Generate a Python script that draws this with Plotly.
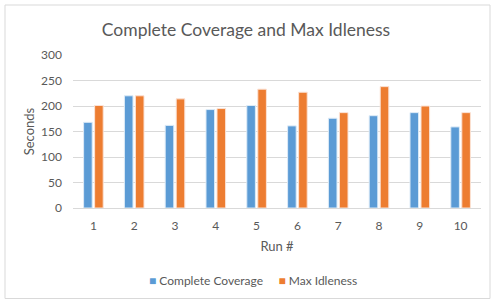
import plotly.graph_objects as go

runs = ["1", "2", "3", "4", "5", "6", "7", "8", "9", "10"]
complete_coverage = [168, 220, 162, 193, 201, 161, 176, 181, 187, 159]
max_idleness = [201, 220, 214, 195, 233, 227, 187, 238, 200, 187]
series_names = ["Complete Coverage", "Max Idleness"]
series_colors = ["#5B9BD5", "#ED7D31"]

FONT = "Lato"
TXT = "#595959"

fig = go.Figure()
fig.add_trace(go.Bar(x=runs, y=complete_coverage, name=series_names[0],
                     marker=dict(color=series_colors[0], line=dict(color="#DDEBF7", width=1))))
fig.add_trace(go.Bar(x=runs, y=max_idleness, name=series_names[1],
                     marker=dict(color=series_colors[1], line=dict(color="#FBE2D5", width=1))))

L, R, T, B = 73, 11, 55, 93
W, H = 492, 301
pw = W - L - R
ph = H - T - B

def py(pix):
    return (T + ph - pix) / ph

def px(pix):
    return (pix - L) / pw

legend_text = (f"<span style='color:{series_colors[0]}'>■</span> {series_names[0]}"
               f"&nbsp;&nbsp;&nbsp;&nbsp;&nbsp;"
               f"<span style='color:{series_colors[1]}'>■</span> {series_names[1]}")

fig.update_layout(
    width=W, height=H,
    margin=dict(l=L, r=R, t=T, b=B, autoexpand=False),
    paper_bgcolor="white", plot_bgcolor="white",
    font=dict(family=FONT, color=TXT, size=12),
    title=dict(text="Complete Coverage and Max Idleness", x=0.5, xanchor="center",
               y=1 - 30 / H, yanchor="middle", font=dict(size=17.5, color=TXT, family=FONT)),
    barmode="group", bargap=0.46, bargroupgap=0.22,
    showlegend=False,
    xaxis=dict(title=dict(text="Run #", font=dict(size=13, color=TXT), standoff=9),
               automargin=False, ticklabelstandoff=7,
               showgrid=False, showline=True, linecolor="#D9D9D9", linewidth=1,
               ticks="", tickfont=dict(size=12, color=TXT)),
    yaxis=dict(title=dict(text="Seconds", font=dict(size=13, color=TXT), standoff=3),
               automargin=False, ticklabelstandoff=10,
               range=[0, 300], dtick=50, showgrid=True, gridcolor="#D9D9D9", gridwidth=1,
               zeroline=False, showline=False, ticks="", tickfont=dict(size=12, color=TXT)),
    annotations=[dict(text=legend_text, xref="paper", yref="paper", x=px(253), y=py(280),
                      xanchor="center", yanchor="middle", showarrow=False,
                      font=dict(size=12, color=TXT, family=FONT))],
)

fig.add_shape(type="rect", xref="paper", yref="paper",
              x0=px(5), x1=px(490), y0=py(298.5), y1=py(5),
              line=dict(color="#D9D9D9", width=1), fillcolor="rgba(0,0,0,0)", layer="above")

fig.write_html("out.html", config={"displayModeBar": False},
               post_script="document.body.style.margin='0';document.body.style.overflow='hidden';")
